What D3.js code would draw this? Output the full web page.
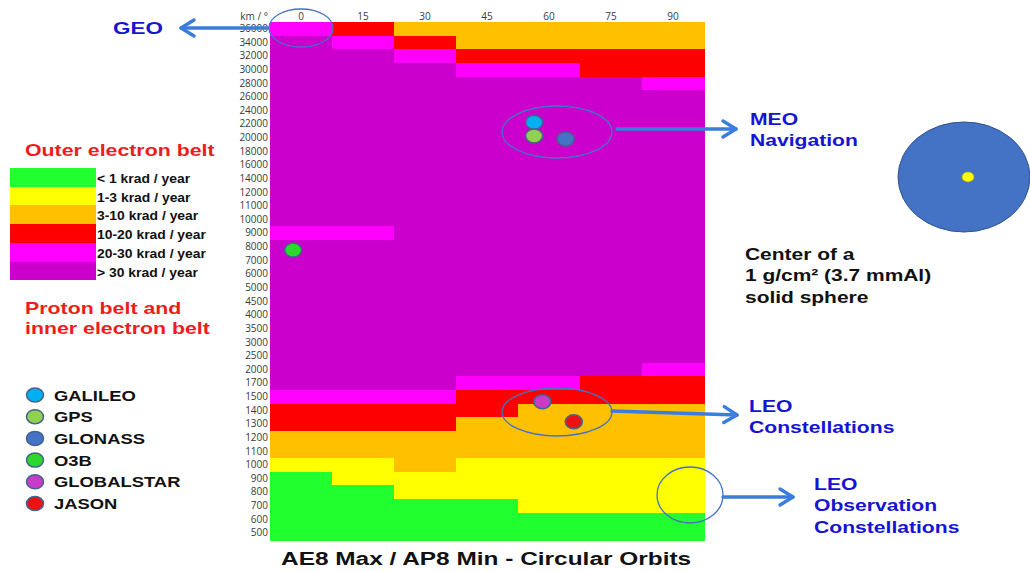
<!DOCTYPE html>
<html><head><meta charset="utf-8">
<script src="https://cdn.jsdelivr.net/npm/d3@7"></script>
<style>html,body{margin:0;padding:0;background:#fff;}svg{display:block;}</style>
</head><body>
<svg id="chart" width="1030" height="571"></svg>
<script>
// ---------- data ----------
const inclinations = [0, 15, 30, 45, 60, 75, 90];
const altitudes = [36000, 34000, 32000, 30000, 28000, 26000, 24000, 22000, 20000, 18000,
  16000, 14000, 12000, 11000, 10000, 9000, 8000, 7000, 6000, 5000, 4500, 4000, 3500, 3000,
  2500, 2000, 1700, 1500, 1400, 1300, 1200, 1100, 1000, 900, 800, 700, 600, 500];
const levelLabels = ["< 1 krad / year", "1-3 krad / year", "3-10 krad / year",
  "10-20 krad / year", "20-30 krad / year", "> 30 krad / year"];
const levelColors = ["#22FF2E", "#FFFF00", "#FFC000", "#FF0000", "#FF00FF", "#CC00CC"];
// dose level index per altitude row (top to bottom) and inclination column
const levels = [
  [4,3,2,2,2,2,2], // 36000
  [5,4,3,2,2,2,2], // 34000
  [5,5,4,3,3,3,3], // 32000
  [5,5,5,4,4,3,3], // 30000
  [5,5,5,5,5,5,4], // 28000
  [5,5,5,5,5,5,5], // 26000
  [5,5,5,5,5,5,5], // 24000
  [5,5,5,5,5,5,5], // 22000
  [5,5,5,5,5,5,5], // 20000
  [5,5,5,5,5,5,5], // 18000
  [5,5,5,5,5,5,5], // 16000
  [5,5,5,5,5,5,5], // 14000
  [5,5,5,5,5,5,5], // 12000
  [5,5,5,5,5,5,5], // 11000
  [5,5,5,5,5,5,5], // 10000
  [4,4,5,5,5,5,5], // 9000
  [5,5,5,5,5,5,5], // 8000
  [5,5,5,5,5,5,5], // 7000
  [5,5,5,5,5,5,5], // 6000
  [5,5,5,5,5,5,5], // 5000
  [5,5,5,5,5,5,5], // 4500
  [5,5,5,5,5,5,5], // 4000
  [5,5,5,5,5,5,5], // 3500
  [5,5,5,5,5,5,5], // 3000
  [5,5,5,5,5,5,5], // 2500
  [5,5,5,5,5,5,4], // 2000
  [5,5,5,4,4,3,3], // 1700
  [4,4,4,3,3,3,3], // 1500
  [3,3,3,3,2,2,2], // 1400
  [3,3,3,2,2,2,2], // 1300
  [2,2,2,2,2,2,2], // 1200
  [2,2,2,2,2,2,2], // 1100
  [1,1,2,1,1,1,1], // 1000
  [0,1,1,1,1,1,1], // 900
  [0,0,1,1,1,1,1], // 800
  [0,0,0,0,1,1,1], // 700
  [0,0,0,0,0,0,0], // 600
  [0,0,0,0,0,0,0]  // 500
];
const satNames = ["GALILEO", "GPS", "GLONASS", "O3B", "GLOBALSTAR", "JASON"];
const satColors = ["#00B0F0", "#92D050", "#4472C4", "#2BD82B", "#C83CC8", "#EE1111"];
const satInclination = [56.4, 56.4, 64, -1.9, 58.4, 66];
const satAltitude = [22280, 20280, 19840, 7770, 1465, 1318];

// ---------- layout ----------
const svg = d3.select("#chart");
const plot = {left: 270, right: 704, top: 22, bottom: 540};
const bold = "'Liberation Sans', Arial, sans-serif";
const tickFont = "'Open Sans', 'Liberation Sans', sans-serif";

const x = d3.scaleBand().domain(inclinations).range([plot.left, plot.right]).padding(0);
const y = d3.scaleBand().domain(altitudes).range([plot.top, plot.bottom]).padding(0);
const xs = d3.scaleLinear().domain([0, 90]).range([x(0) + x.bandwidth() / 2, x(90) + x.bandwidth() / 2]);
const ys = d3.scaleLinear().domain(altitudes).range(altitudes.map(a => y(a) + y.bandwidth() / 2));

// heatmap cells
const cells = [];
altitudes.forEach((a, r) => inclinations.forEach((inc, c) => cells.push({a, inc, v: levels[r][c]})));
svg.append("g").selectAll("rect").data(cells).join("rect")
  .attr("x", d => x(d.inc)).attr("y", d => y(d.a))
  .attr("width", x.bandwidth() + 0.5).attr("height", y.bandwidth() + 0.5)
  .attr("fill", d => levelColors[d.v]).attr("shape-rendering", "crispEdges");

// axes
const yAxis = svg.append("g").attr("transform", `translate(${plot.left},0)`)
  .call(d3.axisLeft(y).tickSize(0).tickPadding(2));
yAxis.select(".domain").remove();
yAxis.selectAll("text").attr("font-family", tickFont).attr("font-size", 10).attr("fill", "#3a3a3a");

const xAxis = svg.append("g").attr("transform", `translate(0,${plot.top - 2})`)
  .call(d3.axisTop(x).tickSize(0).tickPadding(0));
xAxis.select(".domain").remove();
xAxis.selectAll("text").attr("font-family", tickFont).attr("font-size", 10).attr("fill", "#3a3a3a");
svg.append("text").attr("x", 268).attr("y", 20).attr("text-anchor", "end")
  .attr("font-family", tickFont).attr("font-size", 10).attr("fill", "#3a3a3a").text("km / °");

// satellites
svg.append("g").selectAll("ellipse").data(satNames).join("ellipse")
  .attr("cx", (d, i) => xs(satInclination[i])).attr("cy", (d, i) => ys(satAltitude[i]))
  .attr("rx", 8.5).attr("ry", 7).attr("fill", (d, i) => satColors[i])
  .attr("stroke", "#41648F").attr("stroke-width", 1.5);

// annotation ellipses
const annBlue = "#4472C4";
const arrowBlue = "#3B7DDD";
const ann = svg.append("g").attr("fill", "none");
[[301, 28, 32, 19], [557, 132, 55, 26], [557, 412, 55, 24], [690, 495, 33, 28]].forEach(e =>
  ann.append("ellipse").attr("cx", e[0]).attr("cy", e[1]).attr("rx", e[2]).attr("ry", e[3])
    .attr("stroke", annBlue).attr("stroke-width", 1.3));

function arrow(x1, y1, x2, y2) {
  const ang = Math.atan2(y2 - y1, x2 - x1);
  const g = svg.append("g").attr("stroke", arrowBlue).attr("stroke-width", 3.4)
    .attr("fill", "none").attr("stroke-linecap", "round").attr("stroke-linejoin", "round");
  g.append("line").attr("x1", x1).attr("y1", y1).attr("x2", x2).attr("y2", y2);
  const L = 13, W = 8;
  const p = (dx, dy) => [x2 + dx * Math.cos(ang) - dy * Math.sin(ang), y2 + dx * Math.sin(ang) + dy * Math.cos(ang)];
  g.append("path").attr("d", d3.line()([p(-L, -W), p(0, 0), p(-L, W)]));
}
arrow(268, 28, 181, 28);
arrow(617, 129, 736, 129);
arrow(612, 411, 737, 415);
arrow(723, 497, 793, 497);

// annotation texts (horizontally stretched as in the reference slide)
const blueText = "#1414D2";
function multiText(xp, yp, lines, color, size, lh, sx) {
  const t = svg.append("text").attr("transform", `translate(${xp},${yp}) scale(${sx},1)`)
    .attr("font-family", bold).attr("font-weight", "bold").attr("font-size", size).attr("fill", color);
  lines.forEach((s, i) => t.append("tspan").attr("x", 0).attr("dy", i ? lh : 0).text(s));
}
multiText(113, 34, ["GEO"], blueText, 16.5, 0, 1.36);
multiText(750, 125, ["MEO", "Navigation"], blueText, 16, 21, 1.32);
multiText(749, 412, ["LEO", "Constellations"], blueText, 16, 21, 1.32);
multiText(814, 490, ["LEO", "Observation", "Constellations"], blueText, 16, 21.5, 1.32);
multiText(745, 260, ["Center of a", "1 g/cm² (3.7 mmAl)", "solid sphere"], "#111", 16, 21.5, 1.31);
multiText(25, 156, ["Outer electron belt"], "#EE1C1C", 16, 0, 1.333);
multiText(25, 314, ["Proton belt and", "inner electron belt"], "#EE1C1C", 16, 20, 1.333);

// solid sphere illustration
svg.append("ellipse").attr("cx", 964).attr("cy", 177).attr("rx", 66).attr("ry", 55)
  .attr("fill", "#4472C4").attr("stroke", "#2F528F").attr("stroke-width", 1);
svg.append("ellipse").attr("cx", 968).attr("cy", 177).attr("rx", 6).attr("ry", 5)
  .attr("fill", "#FFFF00").attr("stroke", "#B0A000").attr("stroke-width", 0.5);

// dose legend
const lg = svg.append("g");
levelLabels.forEach((lab, i) => {
  lg.append("rect").attr("x", 10).attr("y", 168 + i * 18.7).attr("width", 86).attr("height", 18.9)
    .attr("fill", levelColors[i]).attr("shape-rendering", "crispEdges");
  lg.append("text").attr("transform", `translate(97,${183 + i * 18.7}) scale(1.07,1)`)
    .attr("font-family", bold).attr("font-weight", "bold").attr("font-size", 13)
    .attr("fill", "#111").text(lab);
});

// satellite legend
const sl = svg.append("g");
satNames.forEach((n, i) => {
  const cy = 395 + i * 21.7;
  sl.append("ellipse").attr("cx", 35).attr("cy", cy).attr("rx", 8.5).attr("ry", 7)
    .attr("fill", satColors[i]).attr("stroke", "#41648F").attr("stroke-width", 1.5);
  sl.append("text").attr("transform", `translate(54,${cy + 5.5}) scale(1.27,1)`)
    .attr("font-family", bold).attr("font-weight", "bold").attr("font-size", 14.5)
    .attr("fill", "#111").text(n);
});

// title
svg.append("text").attr("transform", "translate(281,565) scale(1.32,1)")
  .attr("font-family", bold).attr("font-weight", "bold").attr("font-size", 18.5).attr("fill", "#111")
  .text("AE8 Max / AP8 Min - Circular Orbits");
</script>
</body></html>
